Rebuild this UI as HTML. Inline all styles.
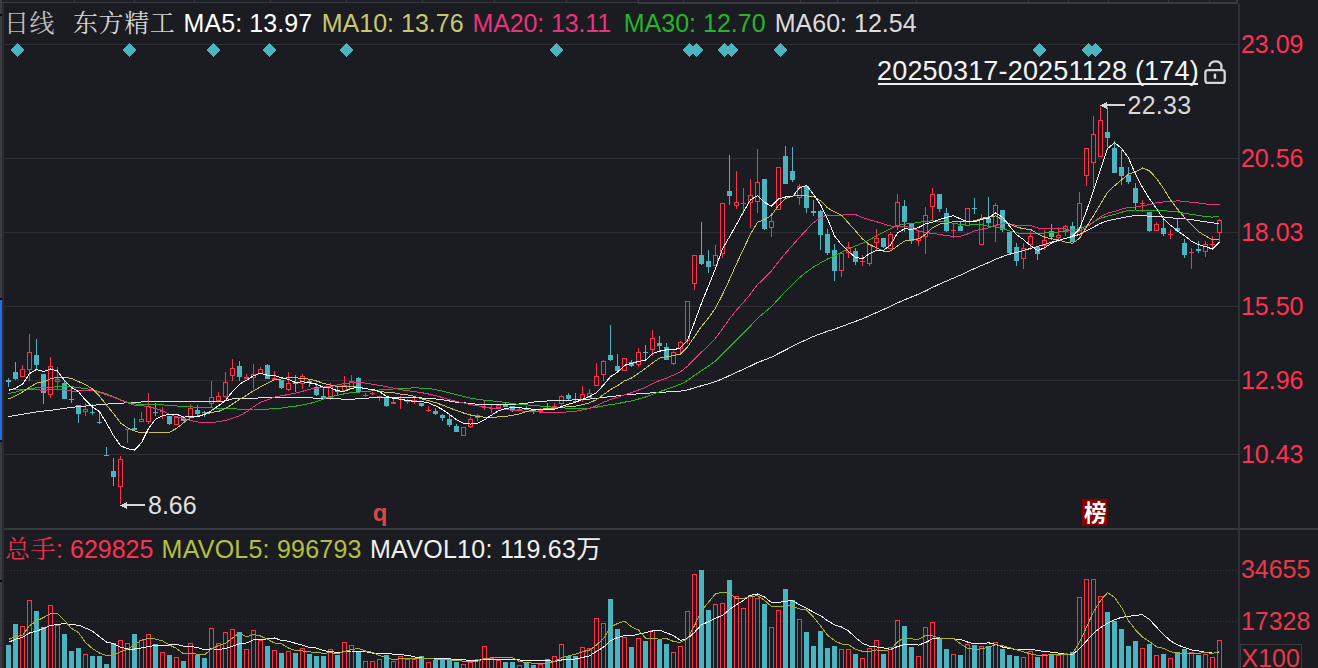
<!DOCTYPE html>
<html><head><meta charset="utf-8"><style>
html,body{margin:0;padding:0;background:#1a1c21;}
body{width:1318px;height:668px;overflow:hidden;position:relative;}
svg{position:absolute;left:0;top:0;}
.t{position:absolute;white-space:pre;font-family:"Liberation Sans","Noto Sans CJK SC",sans-serif;font-size:25px;line-height:1;}
.s{font-family:"Liberation Sans","Noto Serif CJK SC",serif;}
</style></head><body>
<svg width="1318" height="668" viewBox="0 0 1318 668" shape-rendering="crispEdges">
<defs><clipPath id="pc"><rect x="4" y="44" width="1234" height="484"/></clipPath></defs>
<rect x="0" y="0" width="1238" height="2" fill="#1d1f24"/>
<rect x="2" y="2" width="636" height="1" fill="#3a3a42"/>
<rect x="638" y="2" width="600" height="2" fill="#3a3a42"/>
<rect x="74" y="0" width="1" height="2" fill="#3a3a42"/>
<rect x="134" y="0" width="1" height="2" fill="#3a3a42"/>
<rect x="194" y="0" width="1" height="2" fill="#3a3a42"/>
<rect x="270" y="0" width="1" height="2" fill="#3a3a42"/>
<rect x="346" y="0" width="1" height="2" fill="#3a3a42"/>
<rect x="422" y="0" width="1" height="2" fill="#3a3a42"/>
<rect x="494" y="0" width="1" height="2" fill="#3a3a42"/>
<rect x="566" y="0" width="1" height="2" fill="#3a3a42"/>
<rect x="638" y="0" width="1" height="2" fill="#3a3a42"/>
<rect x="683" y="0" width="1" height="2" fill="#3a3a42"/>
<rect x="800" y="0" width="1" height="2" fill="#3a3a42"/>
<rect x="837" y="0" width="1" height="2" fill="#3a3a42"/>
<rect x="877" y="0" width="1" height="2" fill="#3a3a42"/>
<rect x="916" y="0" width="1" height="2" fill="#3a3a42"/>
<rect x="1028" y="0" width="1" height="2" fill="#3a3a42"/>
<rect x="1068" y="0" width="1" height="2" fill="#3a3a42"/>
<rect x="1108" y="0" width="1" height="2" fill="#3a3a42"/>
<rect x="1168" y="0" width="1" height="2" fill="#3a3a42"/>
<rect x="1209" y="0" width="1" height="2" fill="#3a3a42"/>
<rect x="0" y="0" width="2" height="668" fill="#3a3b45"/>
<rect x="2" y="3" width="2" height="665" fill="#2b2a2e"/>
<rect x="0" y="14" width="2" height="2" fill="#000"/>
<rect x="0" y="580" width="2" height="2" fill="#000"/>
<rect x="0" y="298" width="2" height="2" fill="#000"/>
<rect x="0" y="300" width="2" height="140" fill="#1f6fe6"/>
<rect x="0" y="440" width="2" height="2" fill="#000"/>
<rect x="1238" y="4" width="2" height="664" fill="#302f35"/>
<rect x="1236" y="0" width="2" height="4" fill="#3a3a42"/>
<rect x="4" y="44" width="1234" height="1" fill="#2f2e33"/>
<rect x="4" y="158" width="1234" height="1" fill="#2f2e33"/>
<rect x="4" y="232" width="1234" height="1" fill="#2f2e33"/>
<rect x="4" y="306" width="1234" height="1" fill="#2f2e33"/>
<rect x="4" y="380" width="1234" height="1" fill="#2f2e33"/>
<rect x="4" y="454" width="1234" height="1" fill="#2f2e33"/>
<rect x="4" y="528" width="1314" height="2" fill="#38393f"/>
<line x1="5" y1="570.5" x2="1238" y2="570.5" stroke="#38383e" stroke-width="1" stroke-dasharray="1 2"/>
<line x1="5" y1="621.5" x2="1238" y2="621.5" stroke="#38383e" stroke-width="1" stroke-dasharray="1 2"/>
<rect x="1240.5" y="644.5" width="61" height="30" fill="none" stroke="#3a3a3e" stroke-width="1"/>
<polygon points="17.5,43 24.0,50 17.5,57 11.0,50" fill="#4ab4c0"/>
<polygon points="129.5,43 136.0,50 129.5,57 123.0,50" fill="#4ab4c0"/>
<polygon points="213.5,43 220.0,50 213.5,57 207.0,50" fill="#4ab4c0"/>
<polygon points="269.5,43 276.0,50 269.5,57 263.0,50" fill="#4ab4c0"/>
<polygon points="346.5,43 353.0,50 346.5,57 340.0,50" fill="#4ab4c0"/>
<polygon points="556.5,43 563.0,50 556.5,57 550.0,50" fill="#4ab4c0"/>
<polygon points="689.5,43 696.0,50 689.5,57 683.0,50" fill="#4ab4c0"/>
<polygon points="696.5,43 703.0,50 696.5,57 690.0,50" fill="#4ab4c0"/>
<polygon points="724.5,43 731.0,50 724.5,57 718.0,50" fill="#4ab4c0"/>
<polygon points="731.5,43 738.0,50 731.5,57 725.0,50" fill="#4ab4c0"/>
<polygon points="780.5,43 787.0,50 780.5,57 774.0,50" fill="#4ab4c0"/>
<polygon points="1039.5,43 1046.0,50 1039.5,57 1033.0,50" fill="#4ab4c0"/>
<polygon points="1088.5,43 1095.0,50 1088.5,57 1082.0,50" fill="#4ab4c0"/>
<polygon points="1095.5,43 1102.0,50 1095.5,57 1089.0,50" fill="#4ab4c0"/>
<rect x="8" y="378" width="1" height="2" fill="#4cb4c0"/>
<rect x="6" y="380" width="5" height="2" fill="#4cb4c0"/>
<rect x="8" y="382" width="1" height="5" fill="#4cb4c0"/>
<rect x="15" y="362" width="1" height="10" fill="#4cb4c0"/>
<rect x="13" y="372" width="5" height="7" fill="#4cb4c0"/>
<rect x="15" y="379" width="1" height="1" fill="#4cb4c0"/>
<rect x="22" y="365" width="1" height="4" fill="#ff3048"/>
<rect x="20.5" y="369.5" width="4" height="7" fill="none" stroke="#ff3048" stroke-width="1"/>
<rect x="29" y="334" width="1" height="18" fill="#ff3048"/>
<rect x="27.5" y="352.5" width="4" height="17" fill="none" stroke="#ff3048" stroke-width="1"/>
<rect x="29" y="370" width="1" height="11" fill="#ff3048"/>
<rect x="36" y="339" width="1" height="16" fill="#4cb4c0"/>
<rect x="34" y="355" width="5" height="10" fill="#4cb4c0"/>
<rect x="36" y="365" width="1" height="4" fill="#4cb4c0"/>
<rect x="41" y="374" width="5" height="19" fill="#4cb4c0"/>
<rect x="43" y="393" width="1" height="11" fill="#4cb4c0"/>
<rect x="50" y="357" width="1" height="9" fill="#ff3048"/>
<rect x="48.5" y="366.5" width="4" height="28" fill="none" stroke="#ff3048" stroke-width="1"/>
<rect x="50" y="395" width="1" height="3" fill="#ff3048"/>
<rect x="57" y="367" width="1" height="12" fill="#ff3048"/>
<rect x="55.5" y="379.5" width="4" height="2" fill="none" stroke="#ff3048" stroke-width="1"/>
<rect x="57" y="382" width="1" height="8" fill="#ff3048"/>
<rect x="64" y="381" width="1" height="2" fill="#4cb4c0"/>
<rect x="62" y="383" width="5" height="16" fill="#4cb4c0"/>
<rect x="71" y="386" width="1" height="13" fill="#4cb4c0"/>
<rect x="69" y="399" width="5" height="1" fill="#4cb4c0"/>
<rect x="71" y="400" width="1" height="3" fill="#4cb4c0"/>
<rect x="76" y="405" width="5" height="9" fill="#4cb4c0"/>
<rect x="78" y="414" width="1" height="9" fill="#4cb4c0"/>
<rect x="85" y="403" width="1" height="6" fill="#ff3048"/>
<rect x="83.5" y="409.5" width="4" height="2" fill="none" stroke="#ff3048" stroke-width="1"/>
<rect x="85" y="412" width="1" height="4" fill="#ff3048"/>
<rect x="92" y="404" width="1" height="8" fill="#4cb4c0"/>
<rect x="90" y="412" width="5" height="1" fill="#4cb4c0"/>
<rect x="92" y="413" width="1" height="2" fill="#4cb4c0"/>
<rect x="99" y="412" width="1" height="10" fill="#4cb4c0"/>
<rect x="97" y="422" width="5" height="1" fill="#4cb4c0"/>
<rect x="99" y="423" width="1" height="1" fill="#4cb4c0"/>
<rect x="106" y="447" width="1" height="8" fill="#4cb4c0"/>
<rect x="104" y="455" width="5" height="1" fill="#4cb4c0"/>
<rect x="113" y="458" width="1" height="13" fill="#4cb4c0"/>
<rect x="111" y="471" width="5" height="6" fill="#4cb4c0"/>
<rect x="113" y="477" width="1" height="9" fill="#4cb4c0"/>
<rect x="120" y="456" width="1" height="3" fill="#ff3048"/>
<rect x="118.5" y="459.5" width="4" height="27" fill="none" stroke="#ff3048" stroke-width="1"/>
<rect x="120" y="487" width="1" height="17" fill="#ff3048"/>
<rect x="125" y="429" width="5" height="1" fill="#ff3048"/>
<rect x="127" y="430" width="1" height="13" fill="#ff3048"/>
<rect x="134" y="418" width="1" height="10" fill="#4cb4c0"/>
<rect x="132" y="428" width="5" height="2" fill="#4cb4c0"/>
<rect x="141" y="412" width="1" height="7" fill="#ff3048"/>
<rect x="139.5" y="419.5" width="4" height="2" fill="none" stroke="#ff3048" stroke-width="1"/>
<rect x="148" y="393" width="1" height="13" fill="#ff3048"/>
<rect x="146.5" y="406.5" width="4" height="15" fill="none" stroke="#ff3048" stroke-width="1"/>
<rect x="148" y="422" width="1" height="2" fill="#ff3048"/>
<rect x="155" y="403" width="1" height="9" fill="#4cb4c0"/>
<rect x="153" y="412" width="5" height="1" fill="#4cb4c0"/>
<rect x="155" y="413" width="1" height="3" fill="#4cb4c0"/>
<rect x="162" y="407" width="1" height="4" fill="#ff3048"/>
<rect x="160" y="411" width="5" height="1" fill="#ff3048"/>
<rect x="162" y="412" width="1" height="7" fill="#ff3048"/>
<rect x="167" y="416" width="5" height="8" fill="#4cb4c0"/>
<rect x="169" y="424" width="1" height="1" fill="#4cb4c0"/>
<rect x="174.5" y="417.5" width="4" height="7" fill="none" stroke="#ff3048" stroke-width="1"/>
<rect x="183" y="416" width="1" height="2" fill="#4cb4c0"/>
<rect x="181" y="418" width="5" height="3" fill="#4cb4c0"/>
<rect x="190" y="404" width="1" height="4" fill="#ff3048"/>
<rect x="188.5" y="408.5" width="4" height="9" fill="none" stroke="#ff3048" stroke-width="1"/>
<rect x="197" y="405" width="1" height="5" fill="#4cb4c0"/>
<rect x="195" y="410" width="5" height="4" fill="#4cb4c0"/>
<rect x="197" y="414" width="1" height="2" fill="#4cb4c0"/>
<rect x="204" y="411" width="1" height="1" fill="#4cb4c0"/>
<rect x="202" y="412" width="5" height="1" fill="#4cb4c0"/>
<rect x="204" y="413" width="1" height="4" fill="#4cb4c0"/>
<rect x="211" y="381" width="1" height="16" fill="#ff3048"/>
<rect x="209.5" y="397.5" width="4" height="6" fill="none" stroke="#ff3048" stroke-width="1"/>
<rect x="211" y="404" width="1" height="3" fill="#ff3048"/>
<rect x="218" y="392" width="1" height="4" fill="#ff3048"/>
<rect x="216.5" y="396.5" width="4" height="4" fill="none" stroke="#ff3048" stroke-width="1"/>
<rect x="225" y="372" width="1" height="10" fill="#ff3048"/>
<rect x="223.5" y="382.5" width="4" height="14" fill="none" stroke="#ff3048" stroke-width="1"/>
<rect x="225" y="397" width="1" height="1" fill="#ff3048"/>
<rect x="232" y="359" width="1" height="9" fill="#ff3048"/>
<rect x="230.5" y="368.5" width="4" height="7" fill="none" stroke="#ff3048" stroke-width="1"/>
<rect x="232" y="376" width="1" height="5" fill="#ff3048"/>
<rect x="239" y="361" width="1" height="5" fill="#4cb4c0"/>
<rect x="237" y="366" width="5" height="11" fill="#4cb4c0"/>
<rect x="239" y="377" width="1" height="4" fill="#4cb4c0"/>
<rect x="246" y="374" width="1" height="3" fill="#ff3048"/>
<rect x="244" y="377" width="5" height="2" fill="#ff3048"/>
<rect x="253" y="364" width="1" height="10" fill="#ff3048"/>
<rect x="251.5" y="374.5" width="4" height="3" fill="none" stroke="#ff3048" stroke-width="1"/>
<rect x="253" y="378" width="1" height="11" fill="#ff3048"/>
<rect x="260" y="367" width="1" height="2" fill="#ff3048"/>
<rect x="258.5" y="369.5" width="4" height="4" fill="none" stroke="#ff3048" stroke-width="1"/>
<rect x="267" y="364" width="1" height="1" fill="#4cb4c0"/>
<rect x="265" y="365" width="5" height="14" fill="#4cb4c0"/>
<rect x="274" y="371" width="1" height="7" fill="#ff3048"/>
<rect x="272" y="378" width="5" height="2" fill="#ff3048"/>
<rect x="279" y="380" width="5" height="8" fill="#4cb4c0"/>
<rect x="281" y="388" width="1" height="1" fill="#4cb4c0"/>
<rect x="288" y="372" width="1" height="11" fill="#ff3048"/>
<rect x="286.5" y="383.5" width="4" height="6" fill="none" stroke="#ff3048" stroke-width="1"/>
<rect x="288" y="390" width="1" height="1" fill="#ff3048"/>
<rect x="295" y="375" width="1" height="7" fill="#4cb4c0"/>
<rect x="293" y="382" width="5" height="2" fill="#4cb4c0"/>
<rect x="295" y="384" width="1" height="8" fill="#4cb4c0"/>
<rect x="302" y="374" width="1" height="2" fill="#ff3048"/>
<rect x="300.5" y="376.5" width="4" height="7" fill="none" stroke="#ff3048" stroke-width="1"/>
<rect x="302" y="384" width="1" height="5" fill="#ff3048"/>
<rect x="309" y="380" width="1" height="1" fill="#4cb4c0"/>
<rect x="307" y="381" width="5" height="2" fill="#4cb4c0"/>
<rect x="309" y="383" width="1" height="4" fill="#4cb4c0"/>
<rect x="316" y="383" width="1" height="4" fill="#4cb4c0"/>
<rect x="314" y="387" width="5" height="8" fill="#4cb4c0"/>
<rect x="316" y="395" width="1" height="1" fill="#4cb4c0"/>
<rect x="323" y="388" width="1" height="8" fill="#4cb4c0"/>
<rect x="321" y="396" width="5" height="2" fill="#4cb4c0"/>
<rect x="330" y="383" width="1" height="3" fill="#ff3048"/>
<rect x="328.5" y="386.5" width="4" height="11" fill="none" stroke="#ff3048" stroke-width="1"/>
<rect x="330" y="398" width="1" height="2" fill="#ff3048"/>
<rect x="337" y="386" width="1" height="4" fill="#4cb4c0"/>
<rect x="335" y="390" width="5" height="2" fill="#4cb4c0"/>
<rect x="337" y="392" width="1" height="3" fill="#4cb4c0"/>
<rect x="344" y="376" width="1" height="9" fill="#ff3048"/>
<rect x="342.5" y="385.5" width="4" height="5" fill="none" stroke="#ff3048" stroke-width="1"/>
<rect x="351" y="375" width="1" height="6" fill="#ff3048"/>
<rect x="349.5" y="381.5" width="4" height="7" fill="none" stroke="#ff3048" stroke-width="1"/>
<rect x="358" y="377" width="1" height="1" fill="#4cb4c0"/>
<rect x="356" y="378" width="5" height="14" fill="#4cb4c0"/>
<rect x="365" y="393" width="1" height="2" fill="#ff3048"/>
<rect x="363" y="395" width="5" height="1" fill="#ff3048"/>
<rect x="365" y="396" width="1" height="1" fill="#ff3048"/>
<rect x="372" y="392" width="1" height="1" fill="#ff3048"/>
<rect x="370" y="393" width="5" height="1" fill="#ff3048"/>
<rect x="372" y="394" width="1" height="1" fill="#ff3048"/>
<rect x="377" y="396" width="5" height="2" fill="#ff3048"/>
<rect x="379" y="398" width="1" height="3" fill="#ff3048"/>
<rect x="384" y="398" width="5" height="8" fill="#4cb4c0"/>
<rect x="386" y="406" width="1" height="1" fill="#4cb4c0"/>
<rect x="393" y="399" width="1" height="3" fill="#ff3048"/>
<rect x="391" y="402" width="5" height="2" fill="#ff3048"/>
<rect x="400" y="396" width="1" height="3" fill="#ff3048"/>
<rect x="398" y="399" width="5" height="1" fill="#ff3048"/>
<rect x="400" y="400" width="1" height="9" fill="#ff3048"/>
<rect x="407" y="399" width="1" height="1" fill="#ff3048"/>
<rect x="405" y="400" width="5" height="2" fill="#ff3048"/>
<rect x="407" y="402" width="1" height="2" fill="#ff3048"/>
<rect x="414" y="398" width="1" height="2" fill="#ff3048"/>
<rect x="412" y="400" width="5" height="2" fill="#ff3048"/>
<rect x="414" y="402" width="1" height="2" fill="#ff3048"/>
<rect x="419" y="403" width="5" height="3" fill="#4cb4c0"/>
<rect x="421" y="406" width="1" height="1" fill="#4cb4c0"/>
<rect x="428" y="406" width="1" height="4" fill="#ff3048"/>
<rect x="426" y="410" width="5" height="1" fill="#ff3048"/>
<rect x="428" y="411" width="1" height="1" fill="#ff3048"/>
<rect x="435" y="408" width="1" height="3" fill="#4cb4c0"/>
<rect x="433" y="411" width="5" height="3" fill="#4cb4c0"/>
<rect x="435" y="414" width="1" height="1" fill="#4cb4c0"/>
<rect x="442" y="414" width="1" height="1" fill="#4cb4c0"/>
<rect x="440" y="415" width="5" height="3" fill="#4cb4c0"/>
<rect x="442" y="418" width="1" height="3" fill="#4cb4c0"/>
<rect x="449" y="415" width="1" height="4" fill="#4cb4c0"/>
<rect x="447" y="419" width="5" height="6" fill="#4cb4c0"/>
<rect x="449" y="425" width="1" height="2" fill="#4cb4c0"/>
<rect x="456" y="424" width="1" height="2" fill="#4cb4c0"/>
<rect x="454" y="426" width="5" height="6" fill="#4cb4c0"/>
<rect x="461.5" y="427.5" width="4" height="8" fill="none" stroke="#ff3048" stroke-width="1"/>
<rect x="470" y="417" width="1" height="2" fill="#ff3048"/>
<rect x="468.5" y="419.5" width="4" height="7" fill="none" stroke="#ff3048" stroke-width="1"/>
<rect x="470" y="427" width="1" height="1" fill="#ff3048"/>
<rect x="477" y="414" width="1" height="1" fill="#ff3048"/>
<rect x="475.5" y="415.5" width="4" height="2" fill="none" stroke="#ff3048" stroke-width="1"/>
<rect x="477" y="418" width="1" height="3" fill="#ff3048"/>
<rect x="484" y="401" width="1" height="6" fill="#ff3048"/>
<rect x="482" y="407" width="5" height="1" fill="#ff3048"/>
<rect x="484" y="408" width="1" height="2" fill="#ff3048"/>
<rect x="491" y="405" width="1" height="3" fill="#ff3048"/>
<rect x="489" y="408" width="5" height="1" fill="#ff3048"/>
<rect x="491" y="409" width="1" height="4" fill="#ff3048"/>
<rect x="496.5" y="405.5" width="4" height="2" fill="none" stroke="#ff3048" stroke-width="1"/>
<rect x="498" y="408" width="1" height="1" fill="#ff3048"/>
<rect x="505" y="403" width="1" height="2" fill="#4cb4c0"/>
<rect x="503" y="405" width="5" height="2" fill="#4cb4c0"/>
<rect x="510" y="406" width="5" height="4" fill="#4cb4c0"/>
<rect x="512" y="410" width="1" height="2" fill="#4cb4c0"/>
<rect x="519" y="407" width="1" height="2" fill="#ff3048"/>
<rect x="517" y="409" width="5" height="1" fill="#ff3048"/>
<rect x="526" y="406" width="1" height="2" fill="#4cb4c0"/>
<rect x="524" y="408" width="5" height="2" fill="#4cb4c0"/>
<rect x="531" y="410" width="5" height="2" fill="#4cb4c0"/>
<rect x="533" y="412" width="1" height="2" fill="#4cb4c0"/>
<rect x="540" y="408" width="1" height="2" fill="#ff3048"/>
<rect x="538" y="410" width="5" height="2" fill="#ff3048"/>
<rect x="547" y="403" width="1" height="5" fill="#4cb4c0"/>
<rect x="545" y="408" width="5" height="1" fill="#4cb4c0"/>
<rect x="554" y="403" width="1" height="3" fill="#ff3048"/>
<rect x="552" y="406" width="5" height="1" fill="#ff3048"/>
<rect x="561" y="395" width="1" height="1" fill="#ff3048"/>
<rect x="559.5" y="396.5" width="4" height="7" fill="none" stroke="#ff3048" stroke-width="1"/>
<rect x="561" y="404" width="1" height="2" fill="#ff3048"/>
<rect x="568" y="393" width="1" height="2" fill="#4cb4c0"/>
<rect x="566" y="395" width="5" height="4" fill="#4cb4c0"/>
<rect x="568" y="399" width="1" height="1" fill="#4cb4c0"/>
<rect x="575" y="393" width="1" height="8" fill="#4cb4c0"/>
<rect x="573" y="401" width="5" height="1" fill="#4cb4c0"/>
<rect x="582" y="386" width="1" height="8" fill="#ff3048"/>
<rect x="580.5" y="394.5" width="4" height="5" fill="none" stroke="#ff3048" stroke-width="1"/>
<rect x="582" y="400" width="1" height="2" fill="#ff3048"/>
<rect x="589" y="389" width="1" height="4" fill="#ff3048"/>
<rect x="587.5" y="393.5" width="4" height="4" fill="none" stroke="#ff3048" stroke-width="1"/>
<rect x="596" y="363" width="1" height="13" fill="#ff3048"/>
<rect x="594.5" y="376.5" width="4" height="9" fill="none" stroke="#ff3048" stroke-width="1"/>
<rect x="603" y="360" width="1" height="1" fill="#ff3048"/>
<rect x="601.5" y="361.5" width="4" height="13" fill="none" stroke="#ff3048" stroke-width="1"/>
<rect x="603" y="375" width="1" height="6" fill="#ff3048"/>
<rect x="610" y="325" width="1" height="30" fill="#4cb4c0"/>
<rect x="608" y="355" width="5" height="5" fill="#4cb4c0"/>
<rect x="610" y="360" width="1" height="1" fill="#4cb4c0"/>
<rect x="617" y="354" width="1" height="12" fill="#4cb4c0"/>
<rect x="615" y="366" width="5" height="5" fill="#4cb4c0"/>
<rect x="622.5" y="358.5" width="4" height="12" fill="none" stroke="#ff3048" stroke-width="1"/>
<rect x="631" y="360" width="1" height="2" fill="#4cb4c0"/>
<rect x="629" y="362" width="5" height="4" fill="#4cb4c0"/>
<rect x="631" y="366" width="1" height="1" fill="#4cb4c0"/>
<rect x="638" y="348" width="1" height="4" fill="#ff3048"/>
<rect x="636.5" y="352.5" width="4" height="12" fill="none" stroke="#ff3048" stroke-width="1"/>
<rect x="638" y="365" width="1" height="2" fill="#ff3048"/>
<rect x="645" y="345" width="1" height="7" fill="#4cb4c0"/>
<rect x="643" y="352" width="5" height="1" fill="#4cb4c0"/>
<rect x="645" y="353" width="1" height="6" fill="#4cb4c0"/>
<rect x="652" y="330" width="1" height="8" fill="#ff3048"/>
<rect x="650.5" y="338.5" width="4" height="11" fill="none" stroke="#ff3048" stroke-width="1"/>
<rect x="652" y="350" width="1" height="6" fill="#ff3048"/>
<rect x="659" y="336" width="1" height="7" fill="#4cb4c0"/>
<rect x="657" y="343" width="5" height="3" fill="#4cb4c0"/>
<rect x="659" y="346" width="1" height="5" fill="#4cb4c0"/>
<rect x="666" y="343" width="1" height="4" fill="#4cb4c0"/>
<rect x="664" y="347" width="5" height="13" fill="#4cb4c0"/>
<rect x="673" y="351" width="1" height="1" fill="#ff3048"/>
<rect x="671.5" y="352.5" width="4" height="11" fill="none" stroke="#ff3048" stroke-width="1"/>
<rect x="673" y="364" width="1" height="1" fill="#ff3048"/>
<rect x="680" y="341" width="1" height="1" fill="#ff3048"/>
<rect x="678.5" y="342.5" width="4" height="6" fill="none" stroke="#ff3048" stroke-width="1"/>
<rect x="680" y="349" width="1" height="4" fill="#ff3048"/>
<rect x="685.5" y="301.5" width="4" height="39" fill="none" stroke="#ff3048" stroke-width="1"/>
<rect x="687" y="341" width="1" height="3" fill="#ff3048"/>
<rect x="692.5" y="255.5" width="4" height="28" fill="none" stroke="#ff3048" stroke-width="1"/>
<rect x="694" y="284" width="1" height="6" fill="#ff3048"/>
<rect x="701" y="222" width="1" height="33" fill="#4cb4c0"/>
<rect x="699" y="255" width="5" height="9" fill="#4cb4c0"/>
<rect x="701" y="264" width="1" height="1" fill="#4cb4c0"/>
<rect x="708" y="250" width="1" height="11" fill="#4cb4c0"/>
<rect x="706" y="261" width="5" height="6" fill="#4cb4c0"/>
<rect x="708" y="267" width="1" height="6" fill="#4cb4c0"/>
<rect x="715" y="245" width="1" height="10" fill="#ff3048"/>
<rect x="713.5" y="255.5" width="4" height="10" fill="none" stroke="#ff3048" stroke-width="1"/>
<rect x="720.5" y="203.5" width="4" height="50" fill="none" stroke="#ff3048" stroke-width="1"/>
<rect x="722" y="254" width="1" height="4" fill="#ff3048"/>
<rect x="729" y="155" width="1" height="36" fill="#4cb4c0"/>
<rect x="727" y="191" width="5" height="5" fill="#4cb4c0"/>
<rect x="729" y="196" width="1" height="9" fill="#4cb4c0"/>
<rect x="736" y="171" width="1" height="31" fill="#ff3048"/>
<rect x="734.5" y="202.5" width="4" height="3" fill="none" stroke="#ff3048" stroke-width="1"/>
<rect x="736" y="206" width="1" height="3" fill="#ff3048"/>
<rect x="743" y="188" width="1" height="15" fill="#ff3048"/>
<rect x="741" y="203" width="5" height="1" fill="#ff3048"/>
<rect x="743" y="204" width="1" height="7" fill="#ff3048"/>
<rect x="750" y="179" width="1" height="16" fill="#ff3048"/>
<rect x="748.5" y="195.5" width="4" height="7" fill="none" stroke="#ff3048" stroke-width="1"/>
<rect x="750" y="203" width="1" height="25" fill="#ff3048"/>
<rect x="757" y="149" width="1" height="33" fill="#ff3048"/>
<rect x="755.5" y="182.5" width="4" height="19" fill="none" stroke="#ff3048" stroke-width="1"/>
<rect x="757" y="202" width="1" height="11" fill="#ff3048"/>
<rect x="762" y="179" width="5" height="50" fill="#4cb4c0"/>
<rect x="764" y="229" width="1" height="1" fill="#4cb4c0"/>
<rect x="771" y="213" width="1" height="8" fill="#ff3048"/>
<rect x="769.5" y="221.5" width="4" height="6" fill="none" stroke="#ff3048" stroke-width="1"/>
<rect x="771" y="228" width="1" height="9" fill="#ff3048"/>
<rect x="776.5" y="167.5" width="4" height="42" fill="none" stroke="#ff3048" stroke-width="1"/>
<rect x="785" y="146" width="1" height="10" fill="#4cb4c0"/>
<rect x="783" y="156" width="5" height="28" fill="#4cb4c0"/>
<rect x="792" y="147" width="1" height="24" fill="#4cb4c0"/>
<rect x="790" y="171" width="5" height="9" fill="#4cb4c0"/>
<rect x="792" y="180" width="1" height="2" fill="#4cb4c0"/>
<rect x="799" y="184" width="1" height="2" fill="#ff3048"/>
<rect x="797.5" y="186.5" width="4" height="11" fill="none" stroke="#ff3048" stroke-width="1"/>
<rect x="799" y="198" width="1" height="7" fill="#ff3048"/>
<rect x="804" y="186" width="5" height="22" fill="#4cb4c0"/>
<rect x="806" y="208" width="1" height="5" fill="#4cb4c0"/>
<rect x="813" y="200" width="1" height="11" fill="#4cb4c0"/>
<rect x="811" y="211" width="5" height="2" fill="#4cb4c0"/>
<rect x="813" y="213" width="1" height="3" fill="#4cb4c0"/>
<rect x="820" y="210" width="1" height="1" fill="#4cb4c0"/>
<rect x="818" y="211" width="5" height="24" fill="#4cb4c0"/>
<rect x="820" y="235" width="1" height="15" fill="#4cb4c0"/>
<rect x="827" y="229" width="1" height="5" fill="#4cb4c0"/>
<rect x="825" y="234" width="5" height="19" fill="#4cb4c0"/>
<rect x="827" y="253" width="1" height="2" fill="#4cb4c0"/>
<rect x="834" y="244" width="1" height="6" fill="#4cb4c0"/>
<rect x="832" y="250" width="5" height="21" fill="#4cb4c0"/>
<rect x="834" y="271" width="1" height="10" fill="#4cb4c0"/>
<rect x="839.5" y="253.5" width="4" height="17" fill="none" stroke="#ff3048" stroke-width="1"/>
<rect x="841" y="271" width="1" height="6" fill="#ff3048"/>
<rect x="848" y="242" width="1" height="5" fill="#ff3048"/>
<rect x="846.5" y="247.5" width="4" height="5" fill="none" stroke="#ff3048" stroke-width="1"/>
<rect x="848" y="253" width="1" height="5" fill="#ff3048"/>
<rect x="855" y="248" width="1" height="3" fill="#4cb4c0"/>
<rect x="853" y="251" width="5" height="11" fill="#4cb4c0"/>
<rect x="855" y="262" width="1" height="3" fill="#4cb4c0"/>
<rect x="862" y="255" width="1" height="6" fill="#ff3048"/>
<rect x="860" y="261" width="5" height="1" fill="#ff3048"/>
<rect x="862" y="262" width="1" height="4" fill="#ff3048"/>
<rect x="867.5" y="244.5" width="4" height="19" fill="none" stroke="#ff3048" stroke-width="1"/>
<rect x="869" y="264" width="1" height="2" fill="#ff3048"/>
<rect x="876" y="229" width="1" height="9" fill="#ff3048"/>
<rect x="874.5" y="238.5" width="4" height="4" fill="none" stroke="#ff3048" stroke-width="1"/>
<rect x="876" y="243" width="1" height="8" fill="#ff3048"/>
<rect x="881" y="238" width="5" height="9" fill="#4cb4c0"/>
<rect x="883" y="247" width="1" height="1" fill="#4cb4c0"/>
<rect x="890" y="232" width="1" height="2" fill="#ff3048"/>
<rect x="888.5" y="234.5" width="4" height="14" fill="none" stroke="#ff3048" stroke-width="1"/>
<rect x="897" y="194" width="1" height="8" fill="#ff3048"/>
<rect x="895.5" y="202.5" width="4" height="23" fill="none" stroke="#ff3048" stroke-width="1"/>
<rect x="897" y="226" width="1" height="4" fill="#ff3048"/>
<rect x="904" y="200" width="1" height="6" fill="#4cb4c0"/>
<rect x="902" y="206" width="5" height="16" fill="#4cb4c0"/>
<rect x="904" y="222" width="1" height="10" fill="#4cb4c0"/>
<rect x="911" y="223" width="1" height="1" fill="#4cb4c0"/>
<rect x="909" y="224" width="5" height="17" fill="#4cb4c0"/>
<rect x="911" y="241" width="1" height="3" fill="#4cb4c0"/>
<rect x="918" y="231" width="1" height="7" fill="#ff3048"/>
<rect x="916.5" y="238.5" width="4" height="2" fill="none" stroke="#ff3048" stroke-width="1"/>
<rect x="918" y="241" width="1" height="5" fill="#ff3048"/>
<rect x="925" y="207" width="1" height="8" fill="#ff3048"/>
<rect x="923.5" y="215.5" width="4" height="21" fill="none" stroke="#ff3048" stroke-width="1"/>
<rect x="925" y="237" width="1" height="17" fill="#ff3048"/>
<rect x="932" y="188" width="1" height="6" fill="#ff3048"/>
<rect x="930.5" y="194.5" width="4" height="12" fill="none" stroke="#ff3048" stroke-width="1"/>
<rect x="932" y="207" width="1" height="14" fill="#ff3048"/>
<rect x="937" y="194" width="5" height="15" fill="#4cb4c0"/>
<rect x="939" y="209" width="1" height="3" fill="#4cb4c0"/>
<rect x="946" y="208" width="1" height="5" fill="#4cb4c0"/>
<rect x="944" y="213" width="5" height="18" fill="#4cb4c0"/>
<rect x="946" y="231" width="1" height="1" fill="#4cb4c0"/>
<rect x="953" y="224" width="1" height="6" fill="#ff3048"/>
<rect x="951" y="230" width="5" height="1" fill="#ff3048"/>
<rect x="953" y="231" width="1" height="7" fill="#ff3048"/>
<rect x="960" y="222" width="1" height="4" fill="#4cb4c0"/>
<rect x="958" y="226" width="5" height="5" fill="#4cb4c0"/>
<rect x="965.5" y="208.5" width="4" height="17" fill="none" stroke="#ff3048" stroke-width="1"/>
<rect x="974" y="198" width="1" height="10" fill="#4cb4c0"/>
<rect x="972" y="208" width="5" height="1" fill="#4cb4c0"/>
<rect x="974" y="209" width="1" height="5" fill="#4cb4c0"/>
<rect x="981" y="214" width="1" height="5" fill="#ff3048"/>
<rect x="979.5" y="219.5" width="4" height="25" fill="none" stroke="#ff3048" stroke-width="1"/>
<rect x="988" y="197" width="1" height="21" fill="#4cb4c0"/>
<rect x="986" y="218" width="5" height="5" fill="#4cb4c0"/>
<rect x="988" y="223" width="1" height="3" fill="#4cb4c0"/>
<rect x="995" y="203" width="1" height="2" fill="#ff3048"/>
<rect x="993.5" y="205.5" width="4" height="20" fill="none" stroke="#ff3048" stroke-width="1"/>
<rect x="995" y="226" width="1" height="16" fill="#ff3048"/>
<rect x="1000" y="210" width="5" height="20" fill="#4cb4c0"/>
<rect x="1002" y="230" width="1" height="2" fill="#4cb4c0"/>
<rect x="1007" y="232" width="5" height="21" fill="#4cb4c0"/>
<rect x="1009" y="253" width="1" height="1" fill="#4cb4c0"/>
<rect x="1016" y="243" width="1" height="4" fill="#4cb4c0"/>
<rect x="1014" y="247" width="5" height="14" fill="#4cb4c0"/>
<rect x="1016" y="261" width="1" height="5" fill="#4cb4c0"/>
<rect x="1023" y="243" width="1" height="5" fill="#ff3048"/>
<rect x="1021.5" y="248.5" width="4" height="10" fill="none" stroke="#ff3048" stroke-width="1"/>
<rect x="1023" y="259" width="1" height="10" fill="#ff3048"/>
<rect x="1030" y="231" width="1" height="5" fill="#ff3048"/>
<rect x="1028.5" y="236.5" width="4" height="8" fill="none" stroke="#ff3048" stroke-width="1"/>
<rect x="1030" y="245" width="1" height="5" fill="#ff3048"/>
<rect x="1037" y="246" width="1" height="1" fill="#4cb4c0"/>
<rect x="1035" y="247" width="5" height="7" fill="#4cb4c0"/>
<rect x="1037" y="254" width="1" height="6" fill="#4cb4c0"/>
<rect x="1044" y="230" width="1" height="10" fill="#ff3048"/>
<rect x="1042.5" y="240.5" width="4" height="5" fill="none" stroke="#ff3048" stroke-width="1"/>
<rect x="1044" y="246" width="1" height="4" fill="#ff3048"/>
<rect x="1051" y="224" width="1" height="7" fill="#4cb4c0"/>
<rect x="1049" y="231" width="5" height="6" fill="#4cb4c0"/>
<rect x="1051" y="237" width="1" height="3" fill="#4cb4c0"/>
<rect x="1058" y="227" width="1" height="8" fill="#ff3048"/>
<rect x="1056.5" y="235.5" width="4" height="2" fill="none" stroke="#ff3048" stroke-width="1"/>
<rect x="1058" y="238" width="1" height="4" fill="#ff3048"/>
<rect x="1065" y="225" width="1" height="1" fill="#ff3048"/>
<rect x="1063.5" y="226.5" width="4" height="5" fill="none" stroke="#ff3048" stroke-width="1"/>
<rect x="1065" y="232" width="1" height="4" fill="#ff3048"/>
<rect x="1072" y="222" width="1" height="4" fill="#4cb4c0"/>
<rect x="1070" y="226" width="5" height="16" fill="#4cb4c0"/>
<rect x="1079" y="192" width="1" height="11" fill="#ff3048"/>
<rect x="1077.5" y="203.5" width="4" height="31" fill="none" stroke="#ff3048" stroke-width="1"/>
<rect x="1079" y="235" width="1" height="1" fill="#ff3048"/>
<rect x="1084.5" y="148.5" width="4" height="27" fill="none" stroke="#ff3048" stroke-width="1"/>
<rect x="1086" y="176" width="1" height="10" fill="#ff3048"/>
<rect x="1093" y="116" width="1" height="18" fill="#ff3048"/>
<rect x="1091.5" y="134.5" width="4" height="28" fill="none" stroke="#ff3048" stroke-width="1"/>
<rect x="1093" y="163" width="1" height="25" fill="#ff3048"/>
<rect x="1100" y="107" width="1" height="13" fill="#ff3048"/>
<rect x="1098.5" y="120.5" width="4" height="36" fill="none" stroke="#ff3048" stroke-width="1"/>
<rect x="1107" y="107" width="1" height="25" fill="#4cb4c0"/>
<rect x="1105" y="132" width="5" height="6" fill="#4cb4c0"/>
<rect x="1107" y="138" width="1" height="9" fill="#4cb4c0"/>
<rect x="1114" y="141" width="1" height="7" fill="#4cb4c0"/>
<rect x="1112" y="148" width="5" height="25" fill="#4cb4c0"/>
<rect x="1121" y="150" width="1" height="17" fill="#4cb4c0"/>
<rect x="1119" y="167" width="5" height="9" fill="#4cb4c0"/>
<rect x="1121" y="176" width="1" height="9" fill="#4cb4c0"/>
<rect x="1128" y="167" width="1" height="8" fill="#4cb4c0"/>
<rect x="1126" y="175" width="5" height="7" fill="#4cb4c0"/>
<rect x="1128" y="182" width="1" height="2" fill="#4cb4c0"/>
<rect x="1135" y="183" width="1" height="5" fill="#4cb4c0"/>
<rect x="1133" y="188" width="5" height="15" fill="#4cb4c0"/>
<rect x="1135" y="203" width="1" height="7" fill="#4cb4c0"/>
<rect x="1142" y="200" width="1" height="3" fill="#ff3048"/>
<rect x="1140" y="203" width="5" height="1" fill="#ff3048"/>
<rect x="1142" y="204" width="1" height="8" fill="#ff3048"/>
<rect x="1147" y="212" width="5" height="19" fill="#4cb4c0"/>
<rect x="1149" y="231" width="1" height="1" fill="#4cb4c0"/>
<rect x="1156" y="222" width="1" height="2" fill="#ff3048"/>
<rect x="1154.5" y="224.5" width="4" height="6" fill="none" stroke="#ff3048" stroke-width="1"/>
<rect x="1163" y="219" width="1" height="9" fill="#4cb4c0"/>
<rect x="1161" y="228" width="5" height="6" fill="#4cb4c0"/>
<rect x="1163" y="234" width="1" height="2" fill="#4cb4c0"/>
<rect x="1170" y="229" width="1" height="5" fill="#ff3048"/>
<rect x="1168" y="234" width="5" height="1" fill="#ff3048"/>
<rect x="1170" y="235" width="1" height="4" fill="#ff3048"/>
<rect x="1177" y="219" width="1" height="9" fill="#4cb4c0"/>
<rect x="1175" y="228" width="5" height="3" fill="#4cb4c0"/>
<rect x="1184" y="239" width="1" height="4" fill="#4cb4c0"/>
<rect x="1182" y="243" width="5" height="12" fill="#4cb4c0"/>
<rect x="1184" y="255" width="1" height="3" fill="#4cb4c0"/>
<rect x="1191" y="248" width="1" height="4" fill="#ff3048"/>
<rect x="1189" y="252" width="5" height="1" fill="#ff3048"/>
<rect x="1191" y="253" width="1" height="16" fill="#ff3048"/>
<rect x="1198" y="241" width="1" height="8" fill="#4cb4c0"/>
<rect x="1196" y="249" width="5" height="2" fill="#4cb4c0"/>
<rect x="1198" y="251" width="1" height="2" fill="#4cb4c0"/>
<rect x="1205" y="241" width="1" height="3" fill="#ff3048"/>
<rect x="1203.5" y="244.5" width="4" height="7" fill="none" stroke="#ff3048" stroke-width="1"/>
<rect x="1205" y="252" width="1" height="5" fill="#ff3048"/>
<rect x="1212" y="236" width="1" height="8" fill="#ff3048"/>
<rect x="1210" y="244" width="5" height="1" fill="#ff3048"/>
<rect x="1212" y="244" width="1" height="5" fill="#ff3048"/>
<rect x="1219" y="219" width="1" height="1" fill="#ff3048"/>
<rect x="1217.5" y="220.5" width="4" height="12" fill="none" stroke="#ff3048" stroke-width="1"/>
<rect x="1219" y="233" width="1" height="10" fill="#ff3048"/>
<rect x="6" y="645" width="5" height="25" fill="#4cb4c0"/>
<rect x="13" y="624" width="5" height="46" fill="#4cb4c0"/>
<rect x="20.5" y="626.5" width="4" height="46" fill="none" stroke="#ff3048" stroke-width="1"/>
<rect x="27.5" y="600.5" width="4" height="72" fill="none" stroke="#ff3048" stroke-width="1"/>
<rect x="34" y="611" width="5" height="59" fill="#4cb4c0"/>
<rect x="41" y="627" width="5" height="43" fill="#4cb4c0"/>
<rect x="48.5" y="605.5" width="4" height="67" fill="none" stroke="#ff3048" stroke-width="1"/>
<rect x="55.5" y="625.5" width="4" height="47" fill="none" stroke="#ff3048" stroke-width="1"/>
<rect x="62" y="634" width="5" height="36" fill="#4cb4c0"/>
<rect x="69" y="651" width="5" height="19" fill="#4cb4c0"/>
<rect x="76" y="648" width="5" height="22" fill="#4cb4c0"/>
<rect x="83.5" y="654.5" width="4" height="18" fill="none" stroke="#ff3048" stroke-width="1"/>
<rect x="90" y="656" width="5" height="14" fill="#4cb4c0"/>
<rect x="97" y="656" width="5" height="14" fill="#4cb4c0"/>
<rect x="104" y="664" width="5" height="6" fill="#4cb4c0"/>
<rect x="111" y="643" width="5" height="27" fill="#4cb4c0"/>
<rect x="118.5" y="640.5" width="4" height="32" fill="none" stroke="#ff3048" stroke-width="1"/>
<rect x="125.5" y="643.5" width="4" height="29" fill="none" stroke="#ff3048" stroke-width="1"/>
<rect x="132" y="634" width="5" height="36" fill="#4cb4c0"/>
<rect x="139.5" y="640.5" width="4" height="32" fill="none" stroke="#ff3048" stroke-width="1"/>
<rect x="146.5" y="634.5" width="4" height="38" fill="none" stroke="#ff3048" stroke-width="1"/>
<rect x="153" y="644" width="5" height="26" fill="#4cb4c0"/>
<rect x="160.5" y="652.5" width="4" height="20" fill="none" stroke="#ff3048" stroke-width="1"/>
<rect x="167" y="655" width="5" height="15" fill="#4cb4c0"/>
<rect x="174.5" y="657.5" width="4" height="15" fill="none" stroke="#ff3048" stroke-width="1"/>
<rect x="181" y="661" width="5" height="9" fill="#4cb4c0"/>
<rect x="188.5" y="643.5" width="4" height="29" fill="none" stroke="#ff3048" stroke-width="1"/>
<rect x="195" y="655" width="5" height="15" fill="#4cb4c0"/>
<rect x="202" y="658" width="5" height="12" fill="#4cb4c0"/>
<rect x="209.5" y="628.5" width="4" height="44" fill="none" stroke="#ff3048" stroke-width="1"/>
<rect x="216.5" y="643.5" width="4" height="29" fill="none" stroke="#ff3048" stroke-width="1"/>
<rect x="223.5" y="632.5" width="4" height="40" fill="none" stroke="#ff3048" stroke-width="1"/>
<rect x="230.5" y="629.5" width="4" height="43" fill="none" stroke="#ff3048" stroke-width="1"/>
<rect x="237" y="632" width="5" height="38" fill="#4cb4c0"/>
<rect x="244.5" y="649.5" width="4" height="23" fill="none" stroke="#ff3048" stroke-width="1"/>
<rect x="251.5" y="630.5" width="4" height="42" fill="none" stroke="#ff3048" stroke-width="1"/>
<rect x="258.5" y="640.5" width="4" height="32" fill="none" stroke="#ff3048" stroke-width="1"/>
<rect x="265" y="646" width="5" height="24" fill="#4cb4c0"/>
<rect x="272.5" y="650.5" width="4" height="22" fill="none" stroke="#ff3048" stroke-width="1"/>
<rect x="279" y="653" width="5" height="17" fill="#4cb4c0"/>
<rect x="286.5" y="651.5" width="4" height="21" fill="none" stroke="#ff3048" stroke-width="1"/>
<rect x="293" y="653" width="5" height="17" fill="#4cb4c0"/>
<rect x="300.5" y="648.5" width="4" height="24" fill="none" stroke="#ff3048" stroke-width="1"/>
<rect x="307" y="654" width="5" height="16" fill="#4cb4c0"/>
<rect x="314" y="656" width="5" height="14" fill="#4cb4c0"/>
<rect x="321" y="656" width="5" height="14" fill="#4cb4c0"/>
<rect x="328.5" y="649.5" width="4" height="23" fill="none" stroke="#ff3048" stroke-width="1"/>
<rect x="335" y="655" width="5" height="15" fill="#4cb4c0"/>
<rect x="342.5" y="642.5" width="4" height="30" fill="none" stroke="#ff3048" stroke-width="1"/>
<rect x="349.5" y="645.5" width="4" height="27" fill="none" stroke="#ff3048" stroke-width="1"/>
<rect x="356" y="652" width="5" height="18" fill="#4cb4c0"/>
<rect x="363.5" y="661.5" width="4" height="11" fill="none" stroke="#ff3048" stroke-width="1"/>
<rect x="370.5" y="661.5" width="4" height="11" fill="none" stroke="#ff3048" stroke-width="1"/>
<rect x="377.5" y="659.5" width="4" height="13" fill="none" stroke="#ff3048" stroke-width="1"/>
<rect x="384" y="655" width="5" height="15" fill="#4cb4c0"/>
<rect x="391.5" y="661.5" width="4" height="11" fill="none" stroke="#ff3048" stroke-width="1"/>
<rect x="398.5" y="656.5" width="4" height="16" fill="none" stroke="#ff3048" stroke-width="1"/>
<rect x="405.5" y="659.5" width="4" height="13" fill="none" stroke="#ff3048" stroke-width="1"/>
<rect x="412.5" y="659.5" width="4" height="13" fill="none" stroke="#ff3048" stroke-width="1"/>
<rect x="419" y="656" width="5" height="14" fill="#4cb4c0"/>
<rect x="426.5" y="662.5" width="4" height="10" fill="none" stroke="#ff3048" stroke-width="1"/>
<rect x="433" y="660" width="5" height="10" fill="#4cb4c0"/>
<rect x="440" y="660" width="5" height="10" fill="#4cb4c0"/>
<rect x="447" y="660" width="5" height="10" fill="#4cb4c0"/>
<rect x="454" y="662" width="5" height="8" fill="#4cb4c0"/>
<rect x="461.5" y="664.5" width="4" height="8" fill="none" stroke="#ff3048" stroke-width="1"/>
<rect x="468.5" y="662.5" width="4" height="10" fill="none" stroke="#ff3048" stroke-width="1"/>
<rect x="475.5" y="659.5" width="4" height="13" fill="none" stroke="#ff3048" stroke-width="1"/>
<rect x="482.5" y="646.5" width="4" height="26" fill="none" stroke="#ff3048" stroke-width="1"/>
<rect x="489.5" y="658.5" width="4" height="14" fill="none" stroke="#ff3048" stroke-width="1"/>
<rect x="496.5" y="660.5" width="4" height="12" fill="none" stroke="#ff3048" stroke-width="1"/>
<rect x="503" y="662" width="5" height="8" fill="#4cb4c0"/>
<rect x="510" y="662" width="5" height="8" fill="#4cb4c0"/>
<rect x="517.5" y="665.5" width="4" height="7" fill="none" stroke="#ff3048" stroke-width="1"/>
<rect x="524" y="663" width="5" height="7" fill="#4cb4c0"/>
<rect x="531" y="665" width="5" height="5" fill="#4cb4c0"/>
<rect x="538.5" y="664.5" width="4" height="8" fill="none" stroke="#ff3048" stroke-width="1"/>
<rect x="545" y="659" width="5" height="11" fill="#4cb4c0"/>
<rect x="552.5" y="656.5" width="4" height="16" fill="none" stroke="#ff3048" stroke-width="1"/>
<rect x="559.5" y="644.5" width="4" height="28" fill="none" stroke="#ff3048" stroke-width="1"/>
<rect x="566" y="656" width="5" height="14" fill="#4cb4c0"/>
<rect x="573" y="656" width="5" height="14" fill="#4cb4c0"/>
<rect x="580.5" y="647.5" width="4" height="25" fill="none" stroke="#ff3048" stroke-width="1"/>
<rect x="587.5" y="648.5" width="4" height="24" fill="none" stroke="#ff3048" stroke-width="1"/>
<rect x="594.5" y="618.5" width="4" height="54" fill="none" stroke="#ff3048" stroke-width="1"/>
<rect x="601.5" y="623.5" width="4" height="49" fill="none" stroke="#ff3048" stroke-width="1"/>
<rect x="608" y="599" width="5" height="71" fill="#4cb4c0"/>
<rect x="615" y="629" width="5" height="41" fill="#4cb4c0"/>
<rect x="622.5" y="637.5" width="4" height="35" fill="none" stroke="#ff3048" stroke-width="1"/>
<rect x="629" y="647" width="5" height="23" fill="#4cb4c0"/>
<rect x="636.5" y="638.5" width="4" height="34" fill="none" stroke="#ff3048" stroke-width="1"/>
<rect x="643" y="641" width="5" height="29" fill="#4cb4c0"/>
<rect x="650.5" y="630.5" width="4" height="42" fill="none" stroke="#ff3048" stroke-width="1"/>
<rect x="657" y="640" width="5" height="30" fill="#4cb4c0"/>
<rect x="664" y="644" width="5" height="26" fill="#4cb4c0"/>
<rect x="671.5" y="652.5" width="4" height="20" fill="none" stroke="#ff3048" stroke-width="1"/>
<rect x="678.5" y="646.5" width="4" height="26" fill="none" stroke="#ff3048" stroke-width="1"/>
<rect x="685.5" y="611.5" width="4" height="61" fill="none" stroke="#ff3048" stroke-width="1"/>
<rect x="692.5" y="574.5" width="4" height="98" fill="none" stroke="#ff3048" stroke-width="1"/>
<rect x="699" y="570" width="5" height="100" fill="#4cb4c0"/>
<rect x="706" y="610" width="5" height="60" fill="#4cb4c0"/>
<rect x="713.5" y="604.5" width="4" height="68" fill="none" stroke="#ff3048" stroke-width="1"/>
<rect x="720.5" y="603.5" width="4" height="69" fill="none" stroke="#ff3048" stroke-width="1"/>
<rect x="727" y="580" width="5" height="90" fill="#4cb4c0"/>
<rect x="734.5" y="596.5" width="4" height="76" fill="none" stroke="#ff3048" stroke-width="1"/>
<rect x="741.5" y="608.5" width="4" height="64" fill="none" stroke="#ff3048" stroke-width="1"/>
<rect x="748.5" y="595.5" width="4" height="77" fill="none" stroke="#ff3048" stroke-width="1"/>
<rect x="755.5" y="598.5" width="4" height="74" fill="none" stroke="#ff3048" stroke-width="1"/>
<rect x="762" y="604" width="5" height="66" fill="#4cb4c0"/>
<rect x="769.5" y="627.5" width="4" height="45" fill="none" stroke="#ff3048" stroke-width="1"/>
<rect x="776.5" y="610.5" width="4" height="62" fill="none" stroke="#ff3048" stroke-width="1"/>
<rect x="783" y="589" width="5" height="81" fill="#4cb4c0"/>
<rect x="790" y="600" width="5" height="70" fill="#4cb4c0"/>
<rect x="797.5" y="619.5" width="4" height="53" fill="none" stroke="#ff3048" stroke-width="1"/>
<rect x="804" y="632" width="5" height="38" fill="#4cb4c0"/>
<rect x="811" y="646" width="5" height="24" fill="#4cb4c0"/>
<rect x="818" y="631" width="5" height="39" fill="#4cb4c0"/>
<rect x="825" y="648" width="5" height="22" fill="#4cb4c0"/>
<rect x="832" y="646" width="5" height="24" fill="#4cb4c0"/>
<rect x="839.5" y="649.5" width="4" height="23" fill="none" stroke="#ff3048" stroke-width="1"/>
<rect x="846.5" y="649.5" width="4" height="23" fill="none" stroke="#ff3048" stroke-width="1"/>
<rect x="853" y="654" width="5" height="16" fill="#4cb4c0"/>
<rect x="860.5" y="658.5" width="4" height="14" fill="none" stroke="#ff3048" stroke-width="1"/>
<rect x="867.5" y="648.5" width="4" height="24" fill="none" stroke="#ff3048" stroke-width="1"/>
<rect x="874.5" y="640.5" width="4" height="32" fill="none" stroke="#ff3048" stroke-width="1"/>
<rect x="881" y="654" width="5" height="16" fill="#4cb4c0"/>
<rect x="888.5" y="647.5" width="4" height="25" fill="none" stroke="#ff3048" stroke-width="1"/>
<rect x="895.5" y="620.5" width="4" height="52" fill="none" stroke="#ff3048" stroke-width="1"/>
<rect x="902" y="626" width="5" height="44" fill="#4cb4c0"/>
<rect x="909" y="647" width="5" height="23" fill="#4cb4c0"/>
<rect x="916.5" y="656.5" width="4" height="16" fill="none" stroke="#ff3048" stroke-width="1"/>
<rect x="923.5" y="627.5" width="4" height="45" fill="none" stroke="#ff3048" stroke-width="1"/>
<rect x="930.5" y="622.5" width="4" height="50" fill="none" stroke="#ff3048" stroke-width="1"/>
<rect x="937" y="639" width="5" height="31" fill="#4cb4c0"/>
<rect x="944" y="649" width="5" height="21" fill="#4cb4c0"/>
<rect x="951.5" y="654.5" width="4" height="18" fill="none" stroke="#ff3048" stroke-width="1"/>
<rect x="958" y="655" width="5" height="15" fill="#4cb4c0"/>
<rect x="965.5" y="644.5" width="4" height="28" fill="none" stroke="#ff3048" stroke-width="1"/>
<rect x="972" y="645" width="5" height="25" fill="#4cb4c0"/>
<rect x="979.5" y="646.5" width="4" height="26" fill="none" stroke="#ff3048" stroke-width="1"/>
<rect x="986" y="646" width="5" height="24" fill="#4cb4c0"/>
<rect x="993.5" y="642.5" width="4" height="30" fill="none" stroke="#ff3048" stroke-width="1"/>
<rect x="1000" y="649" width="5" height="21" fill="#4cb4c0"/>
<rect x="1007" y="655" width="5" height="15" fill="#4cb4c0"/>
<rect x="1014" y="656" width="5" height="14" fill="#4cb4c0"/>
<rect x="1021.5" y="657.5" width="4" height="15" fill="none" stroke="#ff3048" stroke-width="1"/>
<rect x="1028.5" y="651.5" width="4" height="21" fill="none" stroke="#ff3048" stroke-width="1"/>
<rect x="1035" y="657" width="5" height="13" fill="#4cb4c0"/>
<rect x="1042.5" y="654.5" width="4" height="18" fill="none" stroke="#ff3048" stroke-width="1"/>
<rect x="1049" y="654" width="5" height="16" fill="#4cb4c0"/>
<rect x="1056.5" y="655.5" width="4" height="17" fill="none" stroke="#ff3048" stroke-width="1"/>
<rect x="1063.5" y="653.5" width="4" height="19" fill="none" stroke="#ff3048" stroke-width="1"/>
<rect x="1070" y="652" width="5" height="18" fill="#4cb4c0"/>
<rect x="1077.5" y="597.5" width="4" height="75" fill="none" stroke="#ff3048" stroke-width="1"/>
<rect x="1084.5" y="579.5" width="4" height="93" fill="none" stroke="#ff3048" stroke-width="1"/>
<rect x="1091.5" y="579.5" width="4" height="93" fill="none" stroke="#ff3048" stroke-width="1"/>
<rect x="1098.5" y="596.5" width="4" height="76" fill="none" stroke="#ff3048" stroke-width="1"/>
<rect x="1105" y="612" width="5" height="58" fill="#4cb4c0"/>
<rect x="1112" y="621" width="5" height="49" fill="#4cb4c0"/>
<rect x="1119" y="629" width="5" height="41" fill="#4cb4c0"/>
<rect x="1126" y="646" width="5" height="24" fill="#4cb4c0"/>
<rect x="1133" y="641" width="5" height="29" fill="#4cb4c0"/>
<rect x="1140.5" y="648.5" width="4" height="24" fill="none" stroke="#ff3048" stroke-width="1"/>
<rect x="1147" y="644" width="5" height="26" fill="#4cb4c0"/>
<rect x="1154.5" y="655.5" width="4" height="17" fill="none" stroke="#ff3048" stroke-width="1"/>
<rect x="1161" y="654" width="5" height="16" fill="#4cb4c0"/>
<rect x="1168.5" y="658.5" width="4" height="14" fill="none" stroke="#ff3048" stroke-width="1"/>
<rect x="1175" y="652" width="5" height="18" fill="#4cb4c0"/>
<rect x="1182" y="649" width="5" height="21" fill="#4cb4c0"/>
<rect x="1189.5" y="652.5" width="4" height="20" fill="none" stroke="#ff3048" stroke-width="1"/>
<rect x="1196" y="655" width="5" height="15" fill="#4cb4c0"/>
<rect x="1203.5" y="654.5" width="4" height="18" fill="none" stroke="#ff3048" stroke-width="1"/>
<rect x="1210.5" y="657.5" width="4" height="15" fill="none" stroke="#ff3048" stroke-width="1"/>
<rect x="1217.5" y="640.5" width="4" height="32" fill="none" stroke="#ff3048" stroke-width="1"/>
<g clip-path="url(#pc)">
<polyline points="8.5,416.5 15.5,415.4 22.5,414.2 29.5,413.1 36.5,412.0 43.5,411.1 50.5,410.4 57.5,409.3 64.5,408.4 71.5,407.3 78.5,406.7 85.5,406.1 92.5,405.4 99.5,404.7 106.5,404.1 113.5,403.6 120.5,403.2 127.5,402.8 134.5,402.5 141.5,402.0 148.5,401.6 155.5,401.4 162.5,401.4 169.5,401.4 176.5,401.4 183.5,401.4 190.5,401.5 197.5,401.5 204.5,401.5 211.5,401.5 218.5,401.5 225.5,400.9 232.5,398.8 239.5,398.6 246.5,398.6 253.5,398.6 260.5,397.6 267.5,397.6 274.5,397.5 281.5,397.5 288.5,397.5 295.5,397.5 302.5,397.5 309.5,397.5 316.5,398.5 323.5,398.5 330.5,398.5 337.5,398.5 344.5,399.6 351.5,399.6 358.5,398.5 365.5,398.5 372.5,397.5 379.5,397.6 386.5,397.7 393.5,397.7 400.5,397.8 407.5,397.9 414.5,397.9 421.5,398.0 428.5,398.4 435.5,399.0 442.5,399.8 449.5,401.0 456.5,402.2 463.5,402.7 470.5,403.6 477.5,404.2 484.5,404.3 491.5,404.5 498.5,404.3 505.5,404.3 512.5,404.2 519.5,404.0 526.5,403.2 533.5,402.1 540.5,401.3 547.5,401.0 554.5,400.6 561.5,400.2 568.5,400.1 575.5,399.9 582.5,399.6 589.5,399.1 596.5,398.4 603.5,397.4 610.5,396.6 617.5,395.9 624.5,395.0 631.5,394.5 638.5,393.8 645.5,393.3 652.5,392.8 659.5,392.3 666.5,392.0 673.5,391.6 680.5,391.1 687.5,389.9 694.5,387.8 701.5,385.7 708.5,383.8 715.5,381.6 722.5,378.8 729.5,375.6 736.5,372.4 743.5,369.2 750.5,366.0 757.5,362.5 764.5,359.9 771.5,357.2 778.5,353.5 785.5,350.0 792.5,346.4 799.5,342.9 806.5,339.6 813.5,336.5 820.5,333.8 827.5,331.3 834.5,329.1 841.5,326.6 848.5,323.9 855.5,321.4 862.5,318.7 869.5,315.7 876.5,312.5 883.5,309.5 890.5,306.4 897.5,302.9 904.5,299.8 911.5,297.0 918.5,294.2 925.5,291.0 932.5,287.4 939.5,284.1 946.5,281.1 953.5,278.1 960.5,275.1 967.5,271.8 974.5,268.5 981.5,265.5 988.5,262.6 995.5,259.3 1002.5,256.6 1009.5,254.3 1016.5,252.4 1023.5,250.5 1030.5,248.4 1037.5,246.5 1044.5,244.5 1051.5,242.3 1058.5,240.4 1065.5,238.3 1072.5,236.7 1079.5,234.3 1086.5,230.8 1093.5,227.1 1100.5,223.4 1107.5,220.7 1114.5,219.3 1121.5,217.9 1128.5,216.5 1135.5,215.6 1142.5,215.6 1149.5,216.2 1156.5,216.5 1163.5,217.0 1170.5,217.7 1177.5,218.5 1184.5,218.9 1191.5,219.5 1198.5,220.8 1205.5,221.8 1212.5,222.9 1219.5,223.5" fill="none" stroke="#e0e0e0" stroke-width="1" stroke-linejoin="round"/>
<polyline points="8.5,393.6 15.5,392.1 22.5,390.0 29.5,388.6 36.5,387.9 43.5,387.4 50.5,387.1 57.5,386.9 64.5,386.8 71.5,386.6 78.5,387.6 85.5,388.7 92.5,389.7 99.5,391.8 106.5,393.9 113.5,396.7 120.5,399.8 127.5,402.1 134.5,403.9 141.5,404.3 148.5,404.5 155.5,404.6 162.5,404.9 169.5,405.5 176.5,406.0 183.5,406.5 190.5,406.9 197.5,407.2 204.5,407.6 211.5,407.9 218.5,408.3 225.5,408.5 232.5,408.4 239.5,409.3 246.5,409.7 253.5,409.0 260.5,409.1 267.5,409.1 274.5,408.5 281.5,408.1 288.5,407.0 295.5,406.2 302.5,404.9 309.5,403.6 316.5,401.6 323.5,399.0 330.5,396.6 337.5,395.3 344.5,393.8 351.5,392.6 358.5,392.1 365.5,391.5 372.5,390.9 379.5,390.0 386.5,389.6 393.5,389.0 400.5,388.7 407.5,388.2 414.5,387.8 421.5,388.1 428.5,388.5 435.5,389.6 442.5,391.2 449.5,392.8 456.5,394.6 463.5,396.4 470.5,398.1 477.5,399.2 484.5,400.2 491.5,400.9 498.5,401.6 505.5,402.4 512.5,403.5 519.5,404.4 526.5,404.9 533.5,405.3 540.5,406.1 547.5,406.7 554.5,407.4 561.5,407.9 568.5,408.1 575.5,408.3 582.5,408.4 589.5,408.2 596.5,407.2 603.5,405.9 610.5,404.6 617.5,403.6 624.5,402.2 631.5,400.9 638.5,399.0 645.5,397.0 652.5,394.3 659.5,391.7 666.5,389.3 673.5,386.8 680.5,384.2 687.5,380.5 694.5,375.4 701.5,370.6 708.5,366.0 715.5,360.9 722.5,354.0 729.5,346.9 736.5,340.0 743.5,333.1 750.5,325.9 757.5,318.3 764.5,312.4 771.5,306.6 778.5,298.9 785.5,291.6 792.5,284.5 799.5,277.7 806.5,272.0 813.5,267.1 820.5,262.9 827.5,259.0 834.5,256.1 841.5,252.3 848.5,248.8 855.5,245.8 862.5,243.2 869.5,239.8 876.5,235.7 883.5,232.2 890.5,228.6 897.5,225.3 904.5,224.2 911.5,223.4 918.5,222.5 925.5,221.2 932.5,220.9 939.5,221.3 946.5,222.3 953.5,223.2 960.5,224.4 967.5,225.2 974.5,224.6 981.5,224.5 988.5,226.3 995.5,227.0 1002.5,228.7 1009.5,230.9 1016.5,232.7 1023.5,233.8 1030.5,233.9 1037.5,233.9 1044.5,232.9 1051.5,232.4 1058.5,232.0 1065.5,230.8 1072.5,230.1 1079.5,228.8 1086.5,225.8 1093.5,222.0 1100.5,218.2 1107.5,216.1 1114.5,214.5 1121.5,212.3 1128.5,210.4 1135.5,210.0 1142.5,210.3 1149.5,211.0 1156.5,210.8 1163.5,210.9 1170.5,211.1 1177.5,211.8 1184.5,213.3 1191.5,214.4 1198.5,215.4 1205.5,216.7 1212.5,217.1 1219.5,216.0" fill="none" stroke="#22b422" stroke-width="1" stroke-linejoin="round"/>
<polyline points="8.5,389.5 15.5,389.5 22.5,390.0 29.5,389.5 36.5,389.5 43.5,390.5 50.5,389.5 57.5,389.0 64.5,390.0 71.5,391.0 78.5,391.0 85.5,390.5 92.5,390.5 99.5,392.3 106.5,394.8 113.5,397.2 120.5,400.2 127.5,402.7 134.5,405.1 141.5,405.6 148.5,406.8 155.5,408.5 162.5,410.6 169.5,414.2 176.5,416.8 183.5,418.2 190.5,420.3 197.5,422.0 204.5,422.7 211.5,422.6 218.5,421.7 225.5,420.4 232.5,418.1 239.5,415.8 246.5,411.9 253.5,406.8 260.5,402.3 267.5,399.8 274.5,397.2 281.5,395.7 288.5,394.5 295.5,393.1 302.5,391.3 309.5,389.3 316.5,388.2 323.5,387.1 330.5,386.0 337.5,384.9 344.5,383.5 351.5,382.7 358.5,382.4 365.5,383.1 372.5,384.3 379.5,385.3 386.5,386.7 393.5,388.1 400.5,389.6 407.5,390.6 414.5,391.7 421.5,392.6 428.5,394.0 435.5,395.5 442.5,397.6 449.5,399.6 456.5,401.5 463.5,402.9 470.5,404.5 477.5,405.7 484.5,406.8 491.5,408.1 498.5,408.8 505.5,409.4 512.5,410.3 519.5,410.9 526.5,411.1 533.5,411.5 540.5,412.1 547.5,412.6 554.5,412.9 561.5,412.4 568.5,411.8 575.5,411.2 582.5,410.0 589.5,408.4 596.5,405.6 603.5,402.3 610.5,399.4 617.5,397.2 624.5,394.8 631.5,392.7 638.5,390.0 645.5,387.3 652.5,383.7 659.5,380.6 666.5,378.1 673.5,375.1 680.5,371.7 687.5,366.3 694.5,358.8 701.5,352.2 708.5,345.6 715.5,338.3 722.5,328.7 729.5,318.9 736.5,310.2 743.5,302.3 750.5,294.0 757.5,284.6 764.5,278.2 771.5,270.9 778.5,261.7 785.5,253.2 792.5,245.3 799.5,237.4 806.5,229.8 813.5,222.8 820.5,217.4 827.5,215.0 834.5,215.8 841.5,215.2 848.5,214.2 855.5,214.6 862.5,217.5 869.5,219.9 876.5,221.7 883.5,223.9 890.5,225.9 897.5,226.9 904.5,226.5 911.5,227.5 918.5,231.0 925.5,232.6 932.5,233.3 939.5,234.4 946.5,235.5 953.5,236.4 960.5,236.2 967.5,234.0 974.5,230.9 981.5,229.2 988.5,227.9 995.5,225.1 1002.5,223.6 1009.5,224.0 1016.5,225.2 1023.5,225.2 1030.5,225.3 1037.5,227.9 1044.5,228.8 1051.5,228.6 1058.5,228.4 1065.5,229.0 1072.5,231.4 1079.5,231.1 1086.5,227.0 1093.5,222.2 1100.5,216.7 1107.5,213.1 1114.5,211.4 1121.5,209.2 1128.5,207.2 1135.5,207.0 1142.5,205.7 1149.5,204.6 1156.5,202.7 1163.5,202.0 1170.5,201.9 1177.5,200.8 1184.5,201.5 1191.5,202.3 1198.5,203.0 1205.5,204.0 1212.5,204.0 1219.5,204.8" fill="none" stroke="#e6347f" stroke-width="1" stroke-linejoin="round"/>
<polyline points="8.5,399.0 15.5,395.9 22.5,392.1 29.5,387.4 36.5,383.1 43.5,382.0 50.5,378.9 57.5,377.3 64.5,377.3 71.5,378.4 78.5,381.6 85.5,384.6 92.5,389.0 99.5,396.1 106.5,405.2 113.5,413.6 120.5,422.9 127.5,427.9 134.5,430.9 141.5,432.9 148.5,432.0 155.5,432.4 162.5,432.2 169.5,432.3 176.5,428.4 183.5,422.8 190.5,417.7 197.5,416.2 204.5,414.5 211.5,412.4 218.5,411.4 225.5,408.4 232.5,404.1 239.5,399.4 246.5,395.4 253.5,390.8 260.5,386.9 267.5,383.4 274.5,379.9 281.5,379.0 288.5,377.6 295.5,377.8 302.5,378.5 309.5,379.2 316.5,381.0 323.5,383.4 330.5,385.1 337.5,386.4 344.5,387.0 351.5,386.4 358.5,387.2 365.5,388.4 372.5,390.1 379.5,391.4 386.5,392.4 393.5,392.8 400.5,394.1 407.5,394.9 414.5,396.4 421.5,398.9 428.5,400.7 435.5,402.6 442.5,405.1 449.5,407.9 456.5,410.5 463.5,413.0 470.5,415.0 477.5,416.5 484.5,417.1 491.5,417.4 498.5,416.9 505.5,416.3 512.5,415.4 519.5,413.9 526.5,411.6 533.5,410.1 540.5,409.2 547.5,408.7 554.5,408.6 561.5,407.4 568.5,406.7 575.5,406.2 582.5,404.6 589.5,402.9 596.5,399.6 603.5,394.6 610.5,389.5 617.5,385.7 624.5,380.9 631.5,378.0 638.5,373.3 645.5,368.4 652.5,362.9 659.5,358.2 666.5,356.6 673.5,355.7 680.5,354.0 687.5,347.0 694.5,336.7 701.5,326.4 708.5,317.9 715.5,308.1 722.5,294.6 729.5,279.5 736.5,263.8 743.5,248.9 750.5,234.1 757.5,222.2 764.5,219.6 771.5,215.3 778.5,205.4 785.5,198.4 792.5,196.1 799.5,195.2 806.5,195.8 813.5,196.7 820.5,200.7 827.5,207.8 834.5,211.9 841.5,215.1 848.5,223.1 855.5,230.8 862.5,238.9 869.5,244.7 876.5,247.7 883.5,251.1 890.5,251.0 897.5,246.0 904.5,241.1 911.5,239.9 918.5,239.0 925.5,234.3 932.5,227.6 939.5,224.1 946.5,223.4 953.5,221.7 960.5,221.3 967.5,221.9 974.5,220.7 981.5,218.4 988.5,216.9 995.5,215.9 1002.5,219.5 1009.5,223.9 1016.5,226.9 1023.5,228.8 1030.5,229.3 1037.5,233.8 1044.5,237.0 1051.5,238.8 1058.5,240.0 1065.5,242.1 1072.5,243.3 1079.5,238.3 1086.5,227.0 1093.5,215.6 1100.5,204.0 1107.5,192.4 1114.5,185.8 1121.5,179.7 1128.5,174.3 1135.5,172.0 1142.5,168.0 1149.5,170.8 1156.5,178.5 1163.5,188.4 1170.5,199.8 1177.5,209.1 1184.5,217.3 1191.5,224.8 1198.5,231.7 1205.5,235.9 1212.5,240.0 1219.5,238.9" fill="none" stroke="#c8c464" stroke-width="1" stroke-linejoin="round"/>
<polyline points="8.5,390.3 15.5,388.2 22.5,384.2 29.5,373.6 36.5,369.4 43.5,371.6 50.5,369.0 57.5,371.0 64.5,380.4 71.5,387.4 78.5,391.6 85.5,400.2 92.5,407.0 99.5,411.8 106.5,423.0 113.5,435.6 120.5,445.6 127.5,448.8 134.5,450.1 141.5,442.7 148.5,428.4 155.5,419.2 162.5,415.6 169.5,414.5 176.5,414.1 183.5,417.2 190.5,416.2 197.5,416.8 204.5,414.6 211.5,410.6 218.5,405.7 225.5,400.6 232.5,391.4 239.5,384.2 246.5,380.2 253.5,375.8 260.5,373.2 267.5,375.3 274.5,375.6 281.5,377.7 288.5,379.5 295.5,382.4 302.5,381.8 309.5,382.8 316.5,384.2 323.5,387.3 330.5,387.8 337.5,390.9 344.5,391.2 351.5,388.5 358.5,387.2 365.5,388.9 372.5,389.2 379.5,391.5 386.5,396.4 393.5,398.5 400.5,399.2 407.5,400.6 414.5,401.3 421.5,401.4 428.5,402.9 435.5,405.9 442.5,409.5 449.5,414.5 456.5,419.7 463.5,423.1 470.5,424.1 477.5,423.4 484.5,419.8 491.5,415.1 498.5,410.8 505.5,408.4 512.5,407.5 519.5,407.9 526.5,408.2 533.5,409.4 540.5,410.0 547.5,409.9 554.5,409.3 561.5,406.6 568.5,404.1 575.5,402.3 582.5,399.2 589.5,396.6 596.5,392.7 603.5,385.0 610.5,376.7 617.5,372.2 624.5,365.3 631.5,363.3 638.5,361.5 645.5,360.2 652.5,353.6 659.5,351.2 666.5,349.8 673.5,349.9 680.5,347.8 687.5,340.4 694.5,322.2 701.5,303.1 708.5,285.9 715.5,268.4 722.5,248.8 729.5,236.8 736.5,224.5 743.5,211.8 750.5,199.8 757.5,195.6 764.5,202.4 771.5,206.2 778.5,199.0 785.5,197.0 792.5,196.6 799.5,188.0 806.5,185.4 813.5,194.4 820.5,204.5 827.5,218.9 834.5,235.8 841.5,244.8 848.5,251.8 855.5,257.2 862.5,258.8 869.5,253.5 876.5,250.5 883.5,250.4 890.5,244.9 897.5,233.1 904.5,228.7 911.5,229.3 918.5,227.6 925.5,223.8 932.5,222.2 939.5,219.5 946.5,217.4 953.5,215.7 960.5,218.9 967.5,221.7 974.5,221.8 981.5,219.4 988.5,218.0 995.5,212.9 1002.5,217.2 1009.5,226.0 1016.5,234.5 1023.5,239.6 1030.5,245.7 1037.5,250.5 1044.5,247.9 1051.5,243.1 1058.5,240.4 1065.5,238.4 1072.5,236.2 1079.5,228.8 1086.5,210.9 1093.5,190.8 1100.5,169.6 1107.5,148.7 1114.5,142.7 1121.5,148.4 1128.5,157.9 1135.5,174.4 1142.5,187.4 1149.5,198.9 1156.5,208.5 1163.5,218.9 1170.5,225.2 1177.5,230.9 1184.5,235.7 1191.5,241.2 1198.5,244.6 1205.5,246.6 1212.5,249.1 1219.5,242.1" fill="none" stroke="#ffffff" stroke-width="1" stroke-linejoin="round"/>
</g>
<polyline points="8.5,642.4 15.5,639.2 22.5,637.5 29.5,633.0 36.5,631.1 43.5,628.6 50.5,625.4 57.5,624.6 64.5,623.5 71.5,624.8 78.5,625.1 85.5,628.1 92.5,631.1 99.5,636.7 106.5,642.0 113.5,643.6 120.5,647.2 127.5,649.0 134.5,649.0 141.5,647.9 148.5,646.5 155.5,645.5 162.5,645.1 169.5,645.0 176.5,644.3 183.5,646.1 190.5,646.4 197.5,647.5 204.5,649.9 211.5,648.7 218.5,649.6 225.5,648.4 232.5,646.1 239.5,643.8 246.5,643.0 253.5,639.9 260.5,639.6 267.5,638.8 274.5,638.0 281.5,640.4 288.5,641.2 295.5,643.3 302.5,645.2 309.5,647.4 316.5,648.1 323.5,650.7 330.5,651.6 337.5,652.5 344.5,651.7 351.5,651.0 358.5,651.0 365.5,651.8 372.5,653.1 379.5,653.6 386.5,653.5 393.5,654.1 400.5,654.8 407.5,655.2 414.5,656.9 421.5,658.0 428.5,659.0 435.5,658.9 442.5,658.8 449.5,658.9 456.5,659.5 463.5,659.8 470.5,660.4 477.5,660.4 484.5,659.1 491.5,659.3 498.5,659.1 505.5,659.3 512.5,659.5 519.5,660.0 526.5,660.1 533.5,660.2 540.5,660.5 547.5,660.5 554.5,661.5 561.5,660.0 568.5,659.6 575.5,659.0 582.5,657.5 589.5,655.8 596.5,651.4 603.5,647.2 610.5,640.6 617.5,637.6 624.5,635.7 631.5,636.0 638.5,634.2 645.5,632.7 652.5,631.0 659.5,630.2 666.5,632.8 673.5,635.6 680.5,640.4 687.5,638.6 694.5,632.3 701.5,624.6 708.5,621.8 715.5,618.2 722.5,615.5 729.5,609.5 736.5,604.7 743.5,600.3 750.5,595.2 757.5,594.0 764.5,596.9 771.5,602.6 778.5,602.6 785.5,601.1 792.5,600.8 799.5,604.7 806.5,608.3 813.5,612.1 820.5,615.6 827.5,620.6 834.5,624.8 841.5,627.0 848.5,631.0 855.5,637.5 862.5,643.3 869.5,646.2 876.5,647.0 883.5,647.8 890.5,649.4 897.5,646.6 904.5,644.6 911.5,644.4 918.5,645.1 925.5,642.5 932.5,638.9 939.5,638.0 946.5,638.8 953.5,638.8 960.5,639.6 967.5,642.0 974.5,643.9 981.5,643.8 988.5,642.8 995.5,644.3 1002.5,647.0 1009.5,648.6 1016.5,649.3 1023.5,649.6 1030.5,649.2 1037.5,650.5 1044.5,651.5 1051.5,652.2 1058.5,653.1 1065.5,654.2 1072.5,654.5 1079.5,648.7 1086.5,641.0 1093.5,633.2 1100.5,627.7 1107.5,623.2 1114.5,619.8 1121.5,617.3 1128.5,616.4 1135.5,615.2 1142.5,614.8 1149.5,619.5 1156.5,627.1 1163.5,634.6 1170.5,640.8 1177.5,644.8 1184.5,647.6 1191.5,649.9 1198.5,650.9 1205.5,652.2 1212.5,653.1 1219.5,652.7" fill="none" stroke="#f0f0f0" stroke-width="1" stroke-linejoin="round"/>
<polyline points="8.5,639.4 15.5,636.5 22.5,635.4 29.5,625.6 36.5,621.1 43.5,617.5 50.5,613.8 57.5,613.6 64.5,620.5 71.5,628.4 78.5,632.6 85.5,642.5 92.5,648.6 99.5,653.0 106.5,655.6 113.5,654.7 120.5,651.9 127.5,649.3 134.5,644.9 141.5,640.2 148.5,638.4 155.5,639.1 162.5,640.9 169.5,645.1 176.5,648.4 183.5,653.8 190.5,653.6 197.5,654.1 204.5,654.8 211.5,649.0 218.5,645.5 225.5,643.2 232.5,638.1 239.5,632.9 246.5,637.0 253.5,634.4 260.5,636.0 267.5,639.4 274.5,643.0 281.5,643.8 288.5,648.0 295.5,650.6 302.5,651.0 309.5,651.9 316.5,652.4 323.5,653.4 330.5,652.6 337.5,654.0 344.5,651.6 351.5,649.5 358.5,648.6 365.5,651.0 372.5,652.3 379.5,655.7 386.5,657.6 393.5,659.6 400.5,658.6 407.5,658.1 414.5,658.1 421.5,658.4 428.5,658.5 435.5,659.2 442.5,659.4 449.5,659.6 456.5,660.7 463.5,661.1 470.5,661.5 477.5,661.3 484.5,658.5 491.5,657.9 498.5,657.1 505.5,657.2 512.5,657.7 519.5,661.5 526.5,662.4 533.5,663.4 540.5,663.8 547.5,663.3 554.5,661.5 561.5,657.7 568.5,655.8 575.5,654.1 582.5,651.7 589.5,650.1 596.5,645.0 603.5,638.6 610.5,627.1 617.5,623.5 624.5,621.2 631.5,626.9 638.5,629.9 645.5,638.2 652.5,638.5 659.5,639.2 666.5,638.6 673.5,641.4 680.5,642.5 687.5,638.6 694.5,625.5 701.5,610.7 708.5,602.2 715.5,593.9 722.5,592.3 729.5,593.5 736.5,598.8 743.5,598.4 750.5,596.6 757.5,595.6 764.5,600.4 771.5,606.5 778.5,606.9 785.5,605.6 792.5,606.0 799.5,609.0 806.5,610.0 813.5,617.2 820.5,625.7 827.5,635.2 834.5,640.6 841.5,644.0 848.5,644.7 855.5,649.3 862.5,651.3 869.5,651.7 876.5,649.9 883.5,650.9 890.5,649.5 897.5,642.0 904.5,637.6 911.5,638.9 918.5,639.4 925.5,635.4 932.5,635.8 939.5,638.3 946.5,638.7 953.5,638.3 960.5,643.9 967.5,648.3 974.5,649.4 981.5,648.9 988.5,647.3 995.5,644.7 1002.5,645.6 1009.5,647.7 1016.5,649.7 1023.5,651.9 1030.5,653.8 1037.5,655.4 1044.5,655.2 1051.5,654.8 1058.5,654.4 1065.5,654.6 1072.5,653.6 1079.5,642.3 1086.5,627.3 1093.5,612.0 1100.5,600.7 1107.5,592.7 1114.5,597.4 1121.5,607.4 1128.5,620.8 1135.5,629.8 1142.5,637.0 1149.5,641.6 1156.5,646.8 1163.5,648.4 1170.5,651.8 1177.5,652.7 1184.5,653.7 1191.5,653.1 1198.5,653.3 1205.5,652.5 1212.5,653.5 1219.5,651.7" fill="none" stroke="#a8b030" stroke-width="1" stroke-linejoin="round"/>
<rect x="126" y="504" width="19" height="2" fill="#d8d8d8"/>
<polygon points="120,505.4 127,502 127,508.8" fill="#d8d8d8"/>
<rect x="1106" y="104" width="19" height="2" fill="#d8d8d8"/>
<polygon points="1100,105.5 1107,102 1107,109" fill="#d8d8d8"/>
<rect x="1082" y="499" width="25" height="27" fill="#8a0000"/>
<g fill="none" stroke="#d6d6d6" stroke-width="2.3" shape-rendering="geometricPrecision"><rect x="1205.4" y="70.1" width="19.3" height="12.8" rx="2.5"/><path d="M1209.6,65.8 A6,5.2 0 0 1 1221.4,65.4 L1221.4,69.5" stroke-linecap="round"/></g><rect x="1213.7" y="73.6" width="2.5" height="5.5" rx="1.25" fill="#d6d6d6" shape-rendering="geometricPrecision"/>
<rect x="878" y="83" width="320" height="2" fill="#f0f0f0"/>
</svg>
<svg width="1318" height="668" viewBox="0 0 1318 668"><text x="4.0" y="32" fill="#bdbdbd" style="font-family:'Liberation Sans','Noto Serif CJK SC',serif;font-size:25px;font-weight:normal" textLength="50.42" lengthAdjust="spacing">日线</text>
<text x="73.0" y="32" fill="#d4d4d4" style="font-family:'Liberation Sans','Noto Serif CJK SC',serif;font-size:25px;font-weight:normal" textLength="101.88" lengthAdjust="spacing">东方精工</text>
<text x="183.5" y="32" fill="#ffffff" style="font-family:'Liberation Sans','Noto Sans CJK SC',sans-serif;font-size:25px;font-weight:normal" textLength="128.75" lengthAdjust="spacing">MA5: 13.97</text>
<text x="321.8" y="32" fill="#c9c76f" style="font-family:'Liberation Sans','Noto Sans CJK SC',sans-serif;font-size:25px;font-weight:normal">MA10: 13.76</text>
<text x="472.5" y="32" fill="#e8347e" style="font-family:'Liberation Sans','Noto Sans CJK SC',sans-serif;font-size:25px;font-weight:normal" textLength="138.7" lengthAdjust="spacing">MA20: 13.11</text>
<text x="623.8" y="32" fill="#27b427" style="font-family:'Liberation Sans','Noto Sans CJK SC',sans-serif;font-size:25px;font-weight:normal">MA30: 12.70</text>
<text x="774.8" y="32" fill="#dcdcdc" style="font-family:'Liberation Sans','Noto Sans CJK SC',sans-serif;font-size:25px;font-weight:normal">MA60: 12.54</text>
<text x="877.0" y="79.6" fill="#f4f4f4" style="font-family:'Liberation Sans','Noto Sans CJK SC',sans-serif;font-size:27px;font-weight:normal" textLength="321.65" lengthAdjust="spacing">20250317-20251128 (174)</text>
<text x="1127.5" y="114" fill="#d8d8d8" style="font-family:'Liberation Sans','Noto Sans CJK SC',sans-serif;font-size:25px;font-weight:normal" textLength="63.69" lengthAdjust="spacing">22.33</text>
<text x="148.0" y="514" fill="#e0e0e0" style="font-family:'Liberation Sans','Noto Sans CJK SC',sans-serif;font-size:25px;font-weight:normal">8.66</text>
<text x="1240.9" y="53" fill="#ff3050" style="font-family:'Liberation Sans','Noto Sans CJK SC',sans-serif;font-size:25px;font-weight:normal">23.09</text>
<text x="1240.9" y="167" fill="#ff3050" style="font-family:'Liberation Sans','Noto Sans CJK SC',sans-serif;font-size:25px;font-weight:normal">20.56</text>
<text x="1240.9" y="241" fill="#ff3050" style="font-family:'Liberation Sans','Noto Sans CJK SC',sans-serif;font-size:25px;font-weight:normal">18.03</text>
<text x="1240.9" y="315" fill="#ff3050" style="font-family:'Liberation Sans','Noto Sans CJK SC',sans-serif;font-size:25px;font-weight:normal">15.50</text>
<text x="1240.9" y="389" fill="#ff3050" style="font-family:'Liberation Sans','Noto Sans CJK SC',sans-serif;font-size:25px;font-weight:normal">12.96</text>
<text x="1240.9" y="463" fill="#ff3050" style="font-family:'Liberation Sans','Noto Sans CJK SC',sans-serif;font-size:25px;font-weight:normal">10.43</text>
<text x="1240.9" y="578.3" fill="#e8384a" style="font-family:'Liberation Sans','Noto Sans CJK SC',sans-serif;font-size:25px;font-weight:normal">34655</text>
<text x="1240.9" y="629.7" fill="#e8384a" style="font-family:'Liberation Sans','Noto Sans CJK SC',sans-serif;font-size:25px;font-weight:normal">17328</text>
<text x="1241.5" y="667.2" fill="#e8384a" style="font-family:'Liberation Sans','Noto Sans CJK SC',sans-serif;font-size:25px;font-weight:normal">X100</text>
<text x="5.0" y="558" fill="#f03048" style="font-family:'Liberation Sans','Noto Serif CJK SC',serif;font-size:25px;font-weight:normal" textLength="57.85" lengthAdjust="spacing">总手:</text>
<text x="70.0" y="558" fill="#ff3050" style="font-family:'Liberation Sans','Noto Sans CJK SC',sans-serif;font-size:25px;font-weight:normal">629825</text>
<text x="161.6" y="558" fill="#b6c040" style="font-family:'Liberation Sans','Noto Sans CJK SC',sans-serif;font-size:25px;font-weight:normal" textLength="199.91" lengthAdjust="spacing">MAVOL5: 996793</text>
<text x="370.0" y="558" fill="#f0f0f0" style="font-family:'Liberation Sans','Noto Sans CJK SC',sans-serif;font-size:25px;font-weight:normal" textLength="231.25" lengthAdjust="spacing">MAVOL10: 119.63万</text>
<text x="372.7" y="520.5" fill="#d94848" style="font-family:'Liberation Sans','Noto Sans CJK SC',sans-serif;font-size:24px;font-weight:bold">q</text>
<text x="1084.0" y="520.5" fill="#ffffff" style="font-family:'Liberation Sans','Noto Sans CJK SC',sans-serif;font-size:22.5px;font-weight:bold">榜</text></svg>
</body></html>
